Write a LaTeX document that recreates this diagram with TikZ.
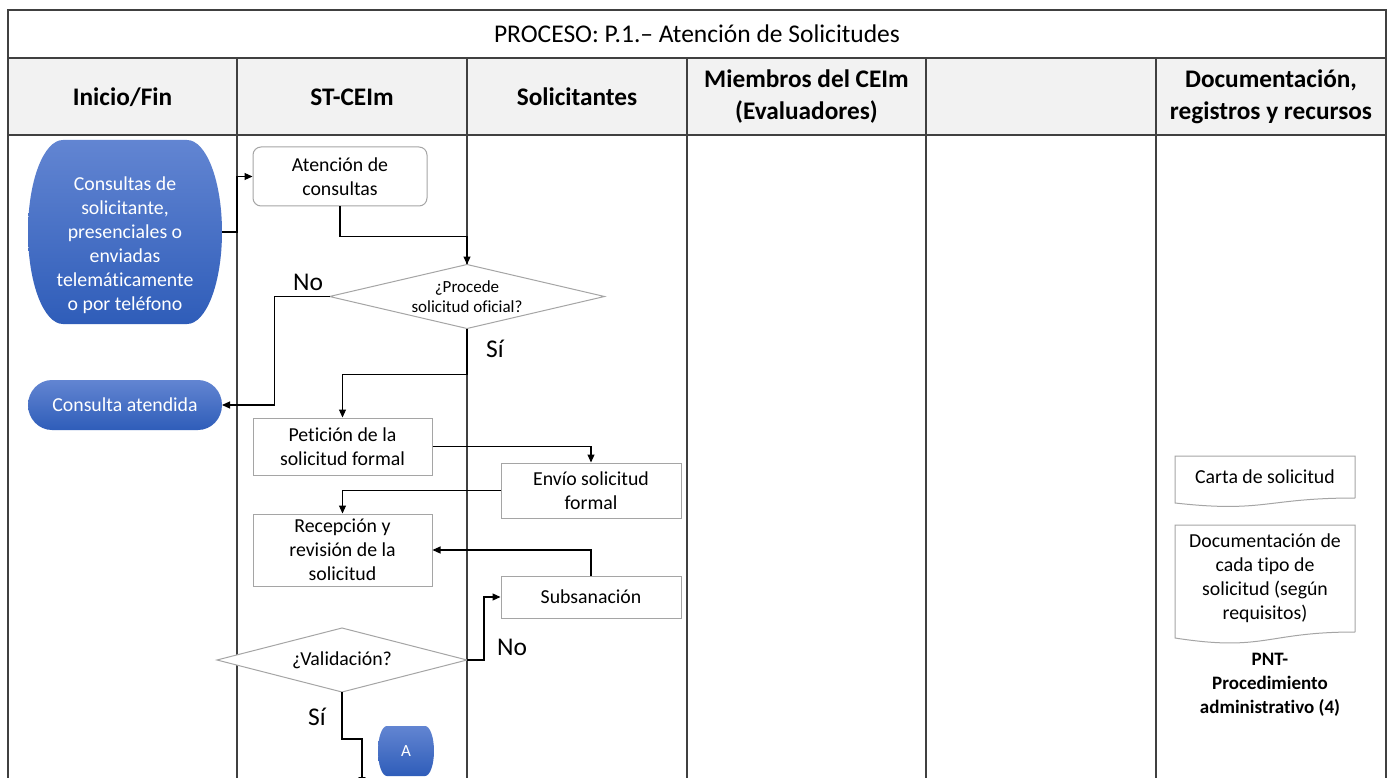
\documentclass[tikz,border=0pt]{standalone}
\usepackage{fontspec}
\setmainfont{Carlito}[Ligatures=NoCommon]
\usetikzlibrary{arrows.meta,shapes.geometric,calc}

\definecolor{termtop}{RGB}{98,133,210}
\definecolor{termbot}{RGB}{47,93,185}
\definecolor{lanegray}{RGB}{64,64,64}
\definecolor{boxgray}{RGB}{165,165,165}
\definecolor{headfill}{RGB}{242,242,242}

\tikzset{
  lane/.style={draw=lanegray, line width=1.5pt},
  bodyfont/.style={font=\fontsize{19.8}{24}\selectfont},
  proc/.style={draw=boxgray, line width=1pt, fill=white, align=center,
    inner sep=0pt, bodyfont},
  decision/.style={diamond, draw=boxgray, line width=1pt, fill=white,
    inner sep=0pt, outer sep=0pt},
  dectext/.style={align=center, text=black},
  docbox/.style={align=center, inner sep=0pt, outer sep=0pt, bodyfont},
  docline/.style={draw=boxgray, line width=1pt},
  conn/.style={draw=black, line width=1.1pt, -{Triangle[length=8pt,width=7pt]}},
  flowlabel/.style={font=\fontsize{25.5}{30}\selectfont, inner sep=0pt},
  headtext/.style={font=\bfseries\fontsize{25.3}{32}\selectfont, align=center},
  termtext/.style={text=white, align=center, bodyfont},
  % terminator: flat top and bottom, elliptical sides (#1 = bulge, #2 = half height)
  terminal/.style n args={2}{inner sep=0pt, outer sep=0pt,
    path picture={
      \shade[top color=termtop, bottom color=termbot]
        ([xshift=#1]path picture bounding box.north west)
        -- ([xshift=-#1]path picture bounding box.north east)
        arc[start angle=90, end angle=-90, x radius=#1, y radius=#2]
        -- ([xshift=#1]path picture bounding box.south west)
        arc[start angle=270, end angle=90, x radius=#1, y radius=#2]
        -- cycle;
    }},
}

\begin{document}
\begin{tikzpicture}[x=1pt,y=-1pt]
\path[use as bounding box] (0,0) rectangle (1389,778);
\clip (0,0) rectangle (1389,778);
\fill[white] (0,0) rectangle (1389,778);

% swimlane table
\fill[headfill] (8,58) rectangle (1386,135);
\draw[lane] (8,790) -- (8,10) -- (1386,10) -- (1386,790);
\draw[lane] (8,58) -- (1386,58);
\draw[lane] (8,135) -- (1386,135);
\foreach \x in {237,467,687,926,1156} \draw[lane] (\x,58) -- (\x,790);

\node[font=\fontsize{25.5}{30}\selectfont] (title) at (697,34) {PROCESO: P.1.– Atención de Solicitudes};
\node[headtext] (h1) at (122.5,97) {Inicio/Fin};
\node[headtext] (h2) at (352,97) {ST-CEIm};
\node[headtext] (h3) at (577,97) {Solicitantes};
\node[headtext] (h4) at (806.5,97) {Miembros del CEIm\\(Evaluadores)};
\node[headtext] (h6) at (1271,97) {Documentación,\\registros y recursos};

% start / end terminators
\node[terminal={35pt}{92pt}, minimum width=194, minimum height=184,
  label={[termtext, yshift=-13pt]center:{Consultas de\\solicitante,\\presenciales o\\enviadas\\telemáticamente\\o por teléfono}}]
  (start) at (125,232) {};
\node[terminal={24pt}{25pt}, minimum width=194, minimum height=50,
  label={[termtext]center:{Consulta atendida}}] (fin) at (125,405) {};
\node[terminal={9pt}{25pt}, minimum width=56, minimum height=50,
  label={[termtext, font=\fontsize{17}{20}\selectfont]center:A}] (conA) at (406,751) {};

% process steps
\node[proc, rounded corners=8pt, minimum width=174, minimum height=59] (aten) at (340,176.5) {Atención de\\consultas};
\node[decision, minimum width=275, minimum height=64,
  label={[dectext, font=\fontsize{17}{20}\selectfont]center:{¿Procede\\solicitud oficial?}}] (q1) at (467,296.5) {};
\node[proc, minimum width=179, minimum height=57] (pet) at (342.5,446.5) {Petición de la\\solicitud formal};
\node[proc, minimum width=180, minimum height=55] (env) at (591,490.5) {Envío solicitud\\formal};
\node[proc, minimum width=179, minimum height=72] (rec) at (342.5,550) {Recepción y\\revisión de la\\solicitud};
\node[proc, minimum width=180, minimum height=42] (sub) at (591,597) {Subsanación};
\node[decision, minimum width=250, minimum height=64,
  label={[dectext, bodyfont]center:{¿Validación?}}] (q2) at (342,660) {};

% documents
\node[docbox, minimum width=180, minimum height=42] (carta) at (1265,477) {Carta de solicitud};
\draw[docline] (carta.south east) -- (carta.north east) -- (carta.north west)
  -- ([yshift=-5pt]carta.south west) .. controls ([yshift=-15pt]carta.south) and (carta.south) .. (carta.south east);
\node[docbox, minimum width=180, minimum height=107] (docum) at (1265,578.5) {Documentación de\\cada tipo de\\solicitud (según\\requisitos)};
\draw[docline] (docum.south east) -- (docum.north east) -- (docum.north west)
  -- ([yshift=-6pt]docum.south west) .. controls ([yshift=-20pt]docum.south) and (docum.south) .. (docum.south east);
\node[font=\bfseries\fontsize{19}{24}\selectfont, align=center] (pnt) at (1270,685) {PNT-\\Procedimiento\\administrativo (4)};

% branch labels
\node[flowlabel] (no1) at (308,282) {No};
\node[flowlabel] (si1) at (495,349) {Sí};
\node[flowlabel] (no2) at (512,647) {No};
\node[flowlabel] (si2) at (317,717) {Sí};

% connectors
\coordinate (tail) at (362,785);
\draw[conn] (start.east) -- ++(15,0) |- (aten.west);
\draw[conn] (aten.south) -- ++(0,30) -| (q1.north);
\draw[conn] (q1.west) -- ++(-55,0) |- (fin.east);
\draw[conn] (q1.south) -- ++(0,46) -| (pet.north);
\draw[conn] (pet.east) -| (env.north);
\draw[conn] (env.west) -| (rec.north);
\draw[conn] (sub.north) |- (rec.east);
\draw[conn] (q2.east) -- ++(17,0) |- (sub.west);
\draw[conn] (q2.south) -- ++(0,47) -| (tail);
\end{tikzpicture}
\end{document}
